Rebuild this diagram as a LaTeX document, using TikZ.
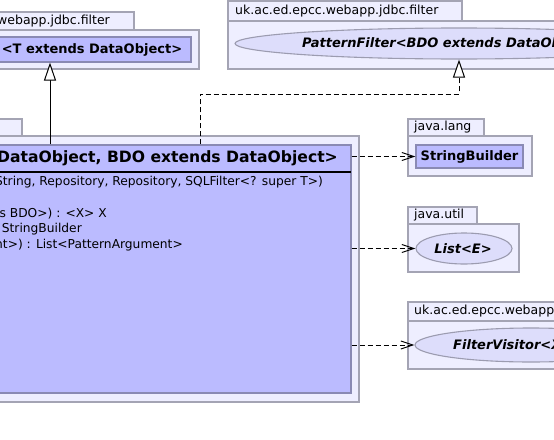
\documentclass[tikz,border=0pt]{standalone}
\usepackage{fontspec}
\setmainfont{DejaVu Sans}
\usetikzlibrary{arrows.meta,shapes.geometric}
\definecolor{pkgfill}{HTML}{EEEEFF}
\definecolor{pkgdraw}{HTML}{A4A4B4}
\definecolor{clsfill}{HTML}{BBBBFF}
\definecolor{clsdraw}{HTML}{8A8AB4}
\definecolor{ifill}{HTML}{DDDDFB}
\definecolor{idraw}{HTML}{9C9CB0}
\tikzset{
  pkg/.style={draw=pkgdraw, fill=pkgfill, line width=1.1pt},
  cls/.style={draw=clsdraw, fill=clsfill, line width=1.1pt, rectangle, inner sep=0pt},
  iface/.style={draw=idraw, fill=ifill, line width=1.1pt, ellipse, inner sep=0pt},
  pkglabel/.style={font=\fontsize{12.5}{14}\selectfont, inner sep=0pt},
  clsname/.style={font=\fontsize{13}{15}\selectfont\bfseries, inner sep=0pt},
  ifname/.style={font=\fontsize{13}{15}\selectfont\bfseries\itshape, inner sep=0pt},
  mtext/.style={font=\fontsize{12.25}{14}\selectfont, inner sep=0pt},
  gen/.style={draw=black, line width=1pt, -{Triangle[open, length=18pt, width=12pt, fill=white]}},
  real/.style={draw=black, line width=1pt, dash pattern=on 5pt off 3pt, -{Triangle[open, length=18pt, width=12pt, fill=white]}},
  dep/.style={draw=black, line width=1pt, dash pattern=on 5pt off 3pt, -{Straight Barb[length=12pt, width=8pt]}}
}
\begin{document}
\begin{tikzpicture}[x=1pt,y=-1pt]
\useasboundingbox (0,0) rectangle (554,439);
\clip (0,0) rectangle (554,439);

% top-left package
\draw[pkg] (-60,12) rectangle (134,30);
\draw[pkg] (-60,30) rectangle (199,69);
\node[pkglabel, anchor=east] (pl1) at (110,21.5) {uk.ac.ed.epcc.webapp.jdbc.filter};
\node[cls, minimum width=198pt, minimum height=25pt] (sqlf) at (92,49.5) {};
\node[clsname] (sqlft) at (92,49.5) {<T extends DataObject>};

% top-right package
\draw[pkg] (228,1) rectangle (462,21);
\draw[pkg] (228,21) rectangle (620,69);
\node[pkglabel, anchor=west] (pl2) at (235,11.5) {uk.ac.ed.epcc.webapp.jdbc.filter};
\node[iface, minimum width=448pt, minimum height=31pt] (pf) at (459,43.5) {};
\node[ifname, anchor=west] (pft) at (302,44) {PatternFilter<BDO extends DataObject>};

% main package
\draw[pkg] (-60,119) rectangle (22,136);
\draw[pkg] (-60,136) rectangle (359,402);
\node[cls, minimum width=560pt, minimum height=248pt] (mainc) at (71,269) {};
\draw[line width=2pt] (-209,172) -- (351,172);
\node[font=\fontsize{15.6}{18}\selectfont\bfseries, inner sep=0pt, anchor=east] (mt) at (338,158.5) {<T extends DataObject, BDO extends DataObject>};
\node[mtext, anchor=east] (m1) at (323,182) {(String, Repository, Repository, SQLFilter<? super T>)};
\node[mtext, anchor=east] (m3) at (107,214) {extends BDO>) : <X> X};
\node[mtext, anchor=east] (m4) at (82,229.5) {: StringBuilder};
\node[mtext, anchor=east] (m5) at (183,245.5) {<PatternArgument>) : List<PatternArgument>};

% java.lang
\draw[pkg] (408,119) rectangle (484,136);
\draw[pkg] (408,136) rectangle (532,176);
\node[pkglabel, anchor=west] (pl3) at (414,127.5) {java.lang};
\node[cls, minimum width=107pt, minimum height=23pt] (sb) at (469.5,156.5) {};
\node[clsname] (sbt) at (469.5,156.5) {StringBuilder};

% java.util
\draw[pkg] (408,207) rectangle (477,224);
\draw[pkg] (408,224) rectangle (519,272);
\node[pkglabel, anchor=west] (pl4) at (414,215.5) {java.util};
\node[iface, minimum width=96pt, minimum height=31pt] (lst) at (464,248.5) {};
\node[ifname] (lstt) at (463,248.5) {List<E>};

% webapp package
\draw[pkg] (408,302) rectangle (620,321);
\draw[pkg] (408,321) rectangle (620,369);
\node[pkglabel, anchor=west] (pl5) at (414,311.5) {uk.ac.ed.epcc.webapp.jdbc.filter};
\node[iface, minimum width=232pt, minimum height=34pt] (fv) at (531,345) {};
\node[ifname, anchor=west] (fvt) at (453,345) {FilterVisitor<X,T>};

% connectors
\coordinate (gc) at (50,0);
\coordinate (rc) at (200,94);
\draw[gen] (mainc.north -| gc) -- (sqlf.south -| gc);
\draw[real] (mainc.north -| rc) -- (rc) -| (pf.south);
\draw[dep] (mainc.east |- sb.west) -- (sb.west);
\draw[dep] (mainc.east |- lst.west) -- (lst.west);
\draw[dep] (mainc.east |- fv.west) -- (fv.west);
\end{tikzpicture}
\end{document}
